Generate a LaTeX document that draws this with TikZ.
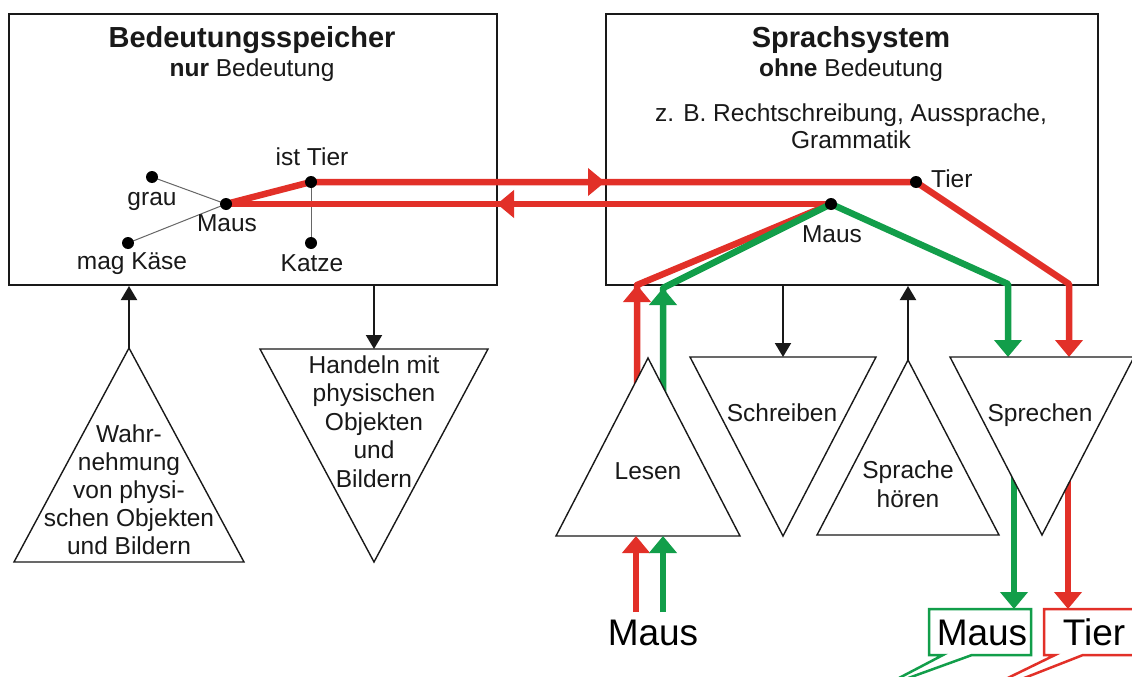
\documentclass[tikz,border=0pt]{standalone}
\usepackage{fontspec}
\setmainfont{Liberation Sans}
\usetikzlibrary{arrows.meta}
\definecolor{myred}{RGB}{226,48,40}
\definecolor{mygreen}{RGB}{18,158,74}
\definecolor{ink}{RGB}{25,25,25}
\begin{document}
\begin{tikzpicture}[x=1pt,y=-1pt,
  lab/.style={font=\fontsize{24.5}{28}\selectfont, text=ink, inner sep=0pt, anchor=base},
  ttl/.style={font=\fontsize{29}{33}\selectfont\bfseries, text=ink, inner sep=0pt, anchor=base},
  big/.style={font=\fontsize{37}{40}\selectfont, text=black, inner sep=0pt, anchor=base},
  dot/.style={circle, fill=black, inner sep=0pt, minimum size=12pt},
  frame/.style={draw=ink, line width=2pt, fill=white, inner sep=0pt, anchor=north west},
  tri/.style={draw=ink, line width=1.4pt, fill=white, line join=miter},
  fine/.style={draw=black!60, line width=1pt},
  rl/.style={draw=myred, line width=6.5pt, line join=round},
  gl/.style={draw=mygreen, line width=6.5pt, line join=round},
  ctip/.style={-{Triangle[length=17pt,width=27pt]}},
  btip/.style={-{Triangle[length=14pt,width=16pt]}},
  blk/.style={draw=ink, line width=2pt},
]
\fill[white] (0,0) rectangle (1132,677);
\useasboundingbox (0,0) rectangle (1132,677);
\clip (0,0) rectangle (1132,677);

% main boxes
\node[frame, minimum width=488pt, minimum height=271pt] (bs) at (8,13) {};
\node[frame, minimum width=492pt, minimum height=271pt] (ss) at (605,13) {};

% titles
\node[ttl] (t1) at (252,48) {Bedeutungsspeicher};
\node[lab] (t1b) at (252,77) {\textbf{nur} Bedeutung};
\node[ttl] (t2) at (851,48) {Sprachsystem};
\node[lab] (t2b) at (851,77) {\textbf{ohne} Bedeutung};
\node[lab] (t2c) at (851,121) {z. B. Rechtschreibung, Aussprache,};
\node[lab] (t2d) at (851,148) {Grammatik};

% dot coordinates
\coordinate (pGrau) at (152,177);
\coordinate (pMausL) at (226,204);
\coordinate (pKaese) at (128,243);
\coordinate (pIstT) at (311,182);
\coordinate (pKatze) at (311,243);
\coordinate (pTierR) at (916,182);
\coordinate (pMausR) at (831,204);

% thin associations
\draw[fine] (pGrau) -- (pMausL);
\draw[fine] (pKaese) -- (pMausL);
\draw[fine] (pIstT) -- (pKatze);

% bend coordinates
\coordinate (aU) at (605,182);
\coordinate (aU0) at (570,182);
\coordinate (aL) at (497,204);
\coordinate (aL0) at (530,204);
\coordinate (rL1) at (637,285);
\coordinate (rL0) at (637,420);
\coordinate (rLa) at (637,330);
\coordinate (gL1) at (663,288);
\coordinate (gL0) at (663,420);
\coordinate (gLa) at (663,330);
\coordinate (gS1) at (1008,284);
\coordinate (gS2) at (1008,357);
\coordinate (rS1) at (1069,284);
\coordinate (rS2) at (1069,357);
\coordinate (gO0) at (1014,450);
\coordinate (gO1) at (1014,609);
\coordinate (rO0) at (1068,450);
\coordinate (rO1) at (1068,609);

% red and green routes
\draw[rl] (pMausL) -- (pIstT) -- (pTierR);
\draw[rl, ctip] (aU0) -- (aU);
\draw[rl] (pMausR) -- (pMausL);
\draw[rl, ctip] (aL0) -- (aL);
\draw[rl, ctip] (pTierR) -- (rS1) -- (rS2);
\draw[rl] (pMausR) -- (rL1) -- (rL0);
\draw[rl, ctip] (rLa) -- (rL1);
\draw[gl] (pMausR) -- (gL1) -- (gL0);
\draw[gl, ctip] (gLa) -- (gL1);
\draw[gl, ctip] (pMausR) -- (gS1) -- (gS2);
\draw[gl, ctip] (gO0) -- (gO1);
\draw[rl, ctip] (rO0) -- (rO1);

% dots
\node[dot] (grau) at (pGrau) {};
\node[dot] (mausL) at (pMausL) {};
\node[dot] (kaese) at (pKaese) {};
\node[dot] (istT) at (pIstT) {};
\node[dot] (katze) at (pKatze) {};
\node[dot] (tierR) at (pTierR) {};
\node[dot] (mausR) at (pMausR) {};

% dot labels
\node[lab] (lGrau) at (152,205) {grau};
\node[lab] (lMausL) at (227,231) {Maus};
\node[lab] (lKaese) at (132,269) {mag Käse};
\node[lab] (lIstT) at (312,165) {ist Tier};
\node[lab] (lKatze) at (312,271) {Katze};
\node[lab, anchor=base west] (lTierR) at (931,187) {Tier};
\node[lab] (lMausR) at (832,242) {Maus};

% triangles
\coordinate (wA) at (129,348); \coordinate (wL) at (14,562); \coordinate (wR) at (244,562);
\draw[tri] (wA) -- (wL) -- (wR) -- cycle;
\coordinate (hL) at (260,349); \coordinate (hR) at (488,349); \coordinate (hA) at (374,562);
\draw[tri] (hL) -- (hR) -- (hA) -- cycle;
\coordinate (lA) at (648,358); \coordinate (lL) at (556,536); \coordinate (lR) at (740,536);
\draw[tri] (lA) -- (lL) -- (lR) -- cycle;
\coordinate (sL) at (690,357); \coordinate (sR) at (876,357); \coordinate (sA) at (783,536);
\draw[tri] (sL) -- (sR) -- (sA) -- cycle;
\coordinate (hoA) at (908,360); \coordinate (hoL) at (817,535); \coordinate (hoR) at (999,535);
\draw[tri] (hoA) -- (hoL) -- (hoR) -- cycle;
\coordinate (spL) at (950,357); \coordinate (spR) at (1134,357); \coordinate (spA) at (1042,535);
\draw[tri] (spL) -- (spR) -- (spA) -- cycle;

% triangle texts
\node[lab] (w1) at (129,442) {Wahr-};
\node[lab] (w2) at (129,470) {nehmung};
\node[lab] (w3) at (129,498) {von physi-};
\node[lab] (w4) at (129,526) {schen Objekten};
\node[lab] (w5) at (129,554) {und Bildern};
\node[lab] (h1) at (374,373) {Handeln mit};
\node[lab] (h2) at (374,401) {physischen};
\node[lab] (h3) at (374,430) {Objekten};
\node[lab] (h4) at (374,458) {und};
\node[lab] (h5) at (374,487) {Bildern};
\node[lab] (les) at (648,479) {Lesen};
\node[lab] (schr) at (782,421) {Schreiben};
\node[lab] (ho1) at (908,478) {Sprache};
\node[lab] (ho2) at (908,507) {hören};
\node[lab] (spr) at (1040,421) {Sprechen};

% black arrows
\draw[blk, btip] (wA) -- (wA |- bs.south);
\draw[blk, btip] (hA |- bs.south) -- (hA |- hL);
\draw[blk, btip] (sA |- ss.south) -- (sA |- sL);
\draw[blk, btip] (hoA) -- (hoA |- ss.south);

% inputs to Lesen
\coordinate (rIn) at (636,612); \coordinate (rInT) at (636,536);
\coordinate (gIn) at (663,612); \coordinate (gInT) at (663,536);
\draw[rl, ctip] (rIn) -- (rInT);
\draw[gl, ctip] (gIn) -- (gInT);
\node[big] (mausIn) at (653,645) {Maus};

% output callouts
\draw[draw=mygreen, line width=2.5pt, fill=white, line join=miter]
  (929,609) -- (1031,609) -- (1031,655) -- (972,655) -- (878,689) -- (943,655) -- (929,655) -- cycle;
\node[big] (mausOut) at (982,645) {Maus};
\draw[draw=myred, line width=2.5pt, fill=white, line join=miter]
  (1044,609) -- (1145,609) -- (1145,655) -- (1083,655) -- (940,711) -- (1055,655) -- (1044,655) -- cycle;
\node[big] (tierOut) at (1094,645) {Tier};
\end{tikzpicture}
\end{document}
